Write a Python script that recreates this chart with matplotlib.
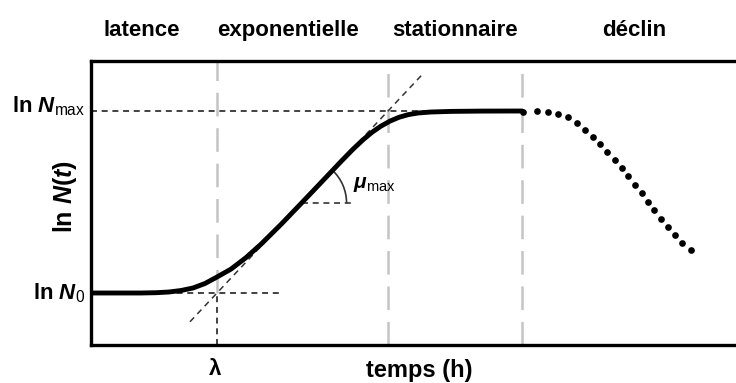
import math
import matplotlib
matplotlib.use("Agg")
import matplotlib.pyplot as plt
from matplotlib.patches import Arc

# bacterial growth curve: time (h) and ln N(t)
growth_t = [0.0, 3.5, 5.0, 6.5, 7.8, 9.0, 10.2, 11.4, 12.6, 14.0, 15.5, 17.0,
            19.0, 21.0, 23.0, 25.0, 26.2, 27.2, 28.1, 29.0, 29.9, 30.8, 31.7,
            32.7, 34.0, 36.0, 39.0, 43.1]
growth_lnN = [5.2, 5.2, 5.2, 5.23, 5.3, 5.45, 5.7, 6.15, 6.8, 7.59, 8.74, 10.08,
              12.06, 14.14, 16.24, 18.35, 19.58, 20.52, 21.27, 21.89, 22.39, 22.77,
              23.03, 23.2, 23.3, 23.36, 23.39, 23.4]

# decline phase (dotted)
decline_t = [43.2, 44.6, 45.7, 46.7, 47.7, 48.6, 49.4, 50.2, 50.9, 51.6, 52.4,
             53.1, 53.7, 54.4, 55.1, 55.7, 56.3, 57.0, 57.7, 58.4, 59.1, 60.0]
decline_lnN = [23.3, 23.4, 23.3, 23.1, 22.8, 22.2, 21.5, 20.8, 20.1, 19.3, 18.5,
               17.7, 16.9, 16.0, 15.2, 14.3, 13.5, 12.6, 11.8, 11.0, 10.2, 9.5]

ln_N0 = 5.2
ln_Nmax = 23.4
lag = 12.6
t_stationary = 29.7
t_decline = 43.1
mu_max = (ln_Nmax - ln_N0) / (t_stationary - lag)

phases = ['latence', 'exponentielle', 'stationnaire', 'déclin']
phase_x = [5.1, 19.7, 36.4, 54.3]

plt.rcParams['font.family'] = ['Liberation Sans', 'DejaVu Sans']
plt.rcParams['mathtext.fontset'] = 'custom'
plt.rcParams['mathtext.rm'] = 'Liberation Sans:bold'
plt.rcParams['mathtext.bf'] = 'Liberation Sans:bold'
plt.rcParams['mathtext.it'] = 'Liberation Sans:italic:bold'
plt.rcParams['mathtext.sf'] = 'Liberation Sans'
plt.rcParams['lines.scale_dashes'] = False

fig = plt.figure(figsize=(7.36, 3.83), dpi=100)
# axes runs past the right edge of the figure, so no right frame shows
ax = fig.add_axes([91 / 736, 38 / 383, 679 / 736, 284 / 383])
ax.set_xlim(0, 67.9)
ax.set_ylim(0, 28.4)
ax.set_xticks([])
ax.set_yticks([])
for side in ['left', 'bottom', 'top', 'right']:
    ax.spines[side].set_linewidth(2.4)

dash = (0, (4.3, 3.4))
gray_dash = (0, (17, 8.5))

# phase boundaries
ax.plot([lag, lag], [ln_N0, 28.4], color='#c4c4c4', lw=1.8, ls=gray_dash, zorder=1)
ax.plot([lag, lag], [0, ln_N0], color='#222222', lw=1.2, ls=dash, zorder=1)
for t in [t_stationary, t_decline]:
    ax.plot([t, t], [0, 28.4], color='#c4c4c4', lw=1.8, ls=gray_dash, zorder=1)

# reference levels
ax.plot([0, t_decline], [ln_Nmax, ln_Nmax], color='#222222', lw=1.2, ls=dash, zorder=2)
ax.plot([0, 19.2], [ln_N0, ln_N0], color='#222222', lw=1.2, ls=dash, zorder=2)

# tangent at the inflection point
tan_t = [9.9, 33.1]
tan_y = [ln_N0 + mu_max * (t - lag) for t in tan_t]
ax.plot(tan_t, tan_y, color='#333333', lw=1.1, ls=dash, zorder=2)

# slope angle marker
y_mu = 14.2
t_mu = lag + (y_mu - ln_N0) / mu_max
ax.plot([t_mu, 26.1], [y_mu, y_mu], color='#333333', lw=1.2, ls=dash, zorder=2)
angle = math.degrees(math.atan(mu_max))
ax.add_patch(Arc((t_mu, y_mu), 9.0, 9.0, theta1=0, theta2=angle,
                 color='#333333', lw=1.2, zorder=2))
ax.text(26.2, 16.0, r'$\mu_{\mathsf{max}}$', fontsize=15, ha='left', va='center')

# growth and decline
ax.plot(growth_t, growth_lnN, color='black', lw=3.5, solid_capstyle='round',
        solid_joinstyle='round', zorder=3)
ax.plot(decline_t, decline_lnN, ls='none', marker='o', ms=3.8, color='black', zorder=3)

# labels
for name, x in zip(phases, phase_x):
    ax.text(x, 30.9, name, fontsize=16, fontweight='bold', ha='center', va='baseline',
            clip_on=False)
ax.text(-0.6, ln_Nmax + 0.5, r'ln $N_{\mathsf{max}}$', fontsize=16, fontweight='bold',
        ha='right', va='center', clip_on=False)
ax.text(-0.6, ln_N0, r'ln $N_{\mathsf{0}}$', fontsize=16, fontweight='bold',
        ha='right', va='center', clip_on=False)
ax.text(-2.6, 14.8, r'ln $N(t)$', fontsize=18, fontweight='bold', rotation=90,
        ha='center', va='center', clip_on=False)
ax.text(lag - 0.2, -3.0, 'λ', fontsize=16, fontweight='bold', ha='center', va='baseline',
        clip_on=False)
ax.text(32.8, -3.2, 'temps (h)', fontsize=17, fontweight='bold', ha='center', va='baseline',
        clip_on=False)

fig.savefig('out.png', dpi=100)
